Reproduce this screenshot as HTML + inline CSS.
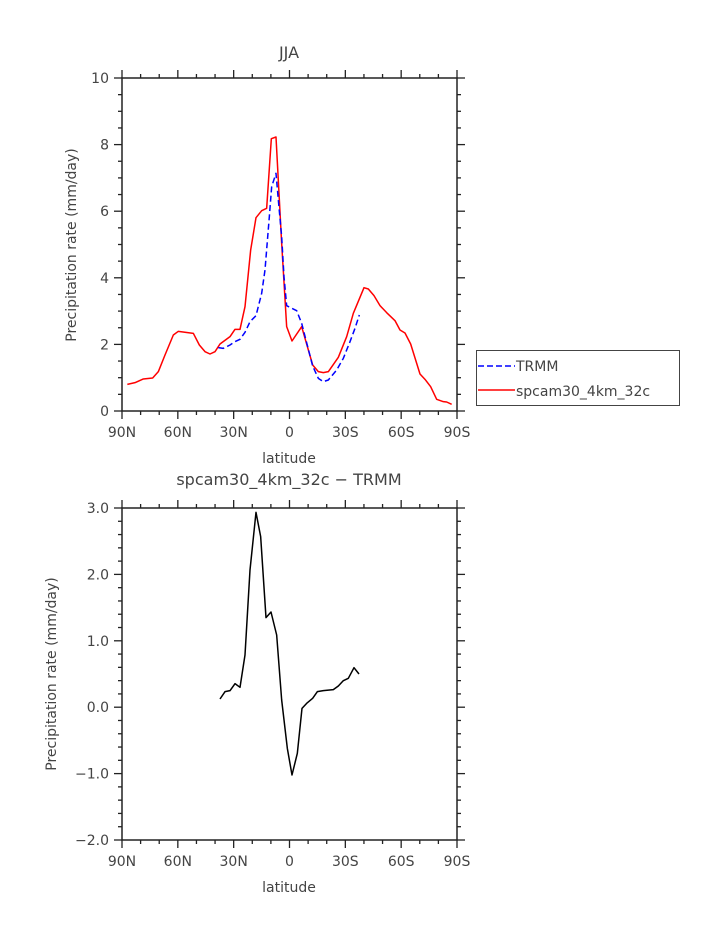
<!DOCTYPE html>
<html><head><meta charset="utf-8"><style>
html,body{margin:0;padding:0;background:#fff;}
svg{display:block;font-family:"DejaVu Sans","Liberation Sans",sans-serif;}
text{fill:#444;font-size:14px;}
</style></head><body>
<svg id="s" width="723" height="935" viewBox="0 0 723 935" xmlns="http://www.w3.org/2000/svg">
<text x="289" y="58" text-anchor="middle" style="font-size:16px">JJA</text>
<text x="289" y="485" text-anchor="middle" style="font-size:16px">spcam30_4km_32c − TRMM</text>
<text x="289" y="463" text-anchor="middle">latitude</text>
<text x="289" y="892" text-anchor="middle">latitude</text>
<text transform="translate(76,245) rotate(-90)" text-anchor="middle">Precipitation rate (mm/day)</text>
<text transform="translate(56,674) rotate(-90)" text-anchor="middle">Precipitation rate (mm/day)</text>
<g id="ax"></g>
<g transform="translate(110,70) scale(0.33333)" fill="none" stroke-linejoin="round">
<polyline stroke="#f00" stroke-width="4.5" points="52,943 75,938 100,927 128,924 145,905 165,855 190,795 205,784 250,790 268,825 285,845 300,852 315,845 330,822 360,800 375,778 390,778 405,710 422,540 438,443 455,422 470,415 484,206 498,201 515,520 530,770 546,813 575,770 608,885 625,905 640,908 655,905 685,862 710,800 730,730 762,653 775,657 792,677 810,707 830,728 855,752 870,780 885,789 902,822 930,912 945,928 962,950 980,988 1000,995 1010,996 1025,1003"/>
<polyline stroke="#00f" stroke-width="4.5" stroke-dasharray="18,10" points="325,833 340,835 360,825 375,815 390,808 405,787 420,755 438,737 455,670 465,600 478,440 485,350 498,310 505,390 515,500 522,620 530,707 560,722 575,760 608,888 625,925 640,935 655,930 680,900 700,865 720,815 735,775 748,735"/>
</g>
<g transform="translate(200,500) scale(0.33333)" fill="none">
<polyline stroke="#000" stroke-width="4.5" stroke-linejoin="round" points="60,597 75,575 90,572 105,551 120,562 135,465 150,210 168,37 182,110 198,353 213,336 230,405 245,600 262,745 276,825 292,760 306,625 320,610 338,595 352,575 370,572 400,569 415,558 430,542 445,535 462,503 477,522"/>
</g>
<rect x="476.5" y="350.5" width="203" height="55" fill="none" stroke="#444" stroke-width="1"/>
<line x1="478" y1="366" x2="515" y2="366" stroke="#00f" stroke-width="1.5" stroke-dasharray="6,3"/>
<line x1="478" y1="390" x2="515" y2="390" stroke="#f00" stroke-width="1.5"/>
<text x="516" y="371">TRMM</text>
<text x="516" y="396">spcam30_4km_32c</text>
</svg>
<script>
var g=document.getElementById('ax'),ns='http://www.w3.org/2000/svg',h='';
function L(a,b,c,d,w){h+='<line x1="'+a+'" y1="'+b+'" x2="'+c+'" y2="'+d+'" stroke="#222" stroke-width="'+(w||1.3)+'"/>';}
function T(x,y,s,a){h+='<text x="'+x+'" y="'+y+'" text-anchor="'+(a||'middle')+'">'+s+'</text>';}
var X0=122,X1=457,xl=['90N','60N','30N','0','30S','60S','90S'];
function frame(t,b,ymin,ymax,major,minor,fmt){
  h+='<rect x="'+X0+'" y="'+t+'" width="'+(X1-X0)+'" height="'+(b-t)+'" fill="none" stroke="#222" stroke-width="1.5"/>';
  for(var i=0;i<=18;i++){var x=X0+(X1-X0)*i/18,m=i%3==0,l=m?8:4;L(x,t,x,t-l);L(x,b,x,b+l);if(m)T(x,b+26,xl[i/3]);}
  var n=Math.round((ymax-ymin)/minor);
  for(var j=0;j<=n;j++){var v=ymin+j*minor,y=b-(b-t)*j/n,m=Math.abs(v/major-Math.round(v/major))<1e-6,l=m?8:4;L(X0,y,X0-l,y);L(X1,y,X1+l,y);if(m)T(X0-13,y+5,fmt(v),'end');}
}
frame(78,411,0,10,2,0.5,function(v){return String(Math.round(v));});
frame(508,840,-2,3,1,0.2,function(v){var s=v.toFixed(1);return s.replace('-','−');});
g.innerHTML=h;
</script>
</body></html>
